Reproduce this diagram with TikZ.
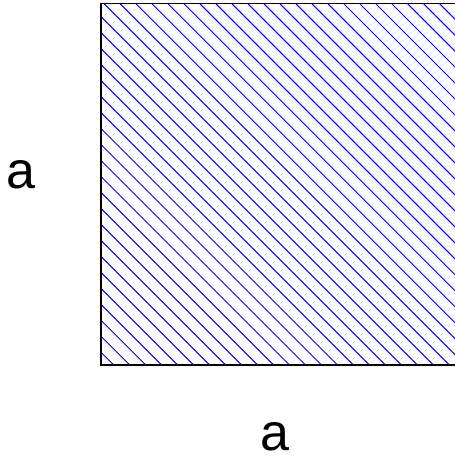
\documentclass[tikz,border=0pt]{standalone}
\usepackage{fontspec}
\setmainfont{Liberation Sans}
\usepackage{tikz}
\usetikzlibrary{patterns.meta}

\begin{document}
\begin{tikzpicture}[
  x=1pt, y=1pt,
  side/.style={font=\fontsize{52}{60}\selectfont, inner sep=0pt},
  hatch/.style={pattern={Lines[angle=-45, distance=11.3pt, line width=1pt]},
                pattern color=blue},
]
  \useasboundingbox (0,0) rectangle (455,459);
  \clip (0,0) rectangle (455,459);

  % Square (right side runs past the picture)
  \fill[white] (0,0) rectangle (455,459);
  \draw[hatch, line width=1.2pt] (101,94) rectangle (463,455.5);

  % Side labels
  \node[side] (left)   at (21,284) {a};
  \node[side] (bottom) at (275,22) {a};
\end{tikzpicture}
\end{document}
